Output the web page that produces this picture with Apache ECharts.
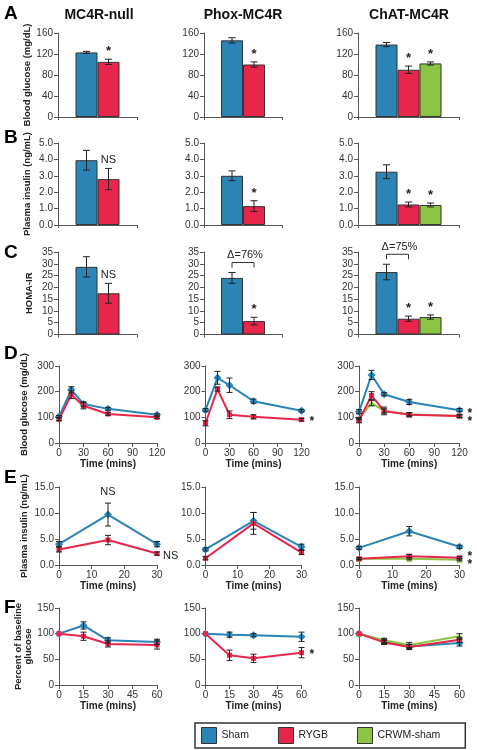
<!DOCTYPE html>
<html><head><meta charset="utf-8">
<script src="https://cdn.jsdelivr.net/npm/echarts@6/dist/echarts.min.js"></script>
<style>html,body{margin:0;padding:0;background:#fff}#c{width:477px;height:750px}</style>
</head><body><div id="c"></div>
<script>
// ---------- DATA ----------
const groups = ['MC4R-null', 'Phox-MC4R', 'ChAT-MC4R'];
const legendNames = ['Sham', 'RYGB', 'CRWM-sham'];
const panelLetters = ['A', 'B', 'C', 'D', 'E', 'F'];

// A: fasting blood glucose (mg/dL)
const glucoseSham = [123, 146, 138], glucoseShamErr = [2, 5, 4];
const glucoseRygb = [105, 100, 90], glucoseRygbErr = [5, 5, 7];
const glucoseCrwm = [null, null, 102], glucoseCrwmErr = [null, null, 3];
const glucoseSig = [[null, '*'], [null, '*'], [null, '*', '*']];

// B: fasting plasma insulin (ng/mL)
const insulinSham = [3.95, 3.0, 3.25], insulinShamErr = [0.6, 0.3, 0.42];
const insulinRygb = [2.8, 1.15, 1.25], insulinRygbErr = [0.65, 0.33, 0.15];
const insulinCrwm = [null, null, 1.22], insulinCrwmErr = [null, null, 0.12];
const insulinSig = [[null, 'NS'], [null, '*'], [null, '*', '*']];

// C: HOMA-IR
const homaSham = [28.7, 24.0, 26.5], homaShamErr = [4.3, 2.3, 3.3];
const homaRygb = [17.5, 5.7, 6.7], homaRygbErr = [4.2, 1.6, 1.1];
const homaCrwm = [null, null, 7.4], homaCrwmErr = [null, null, 0.9];
const homaSig = [[null, 'NS'], [null, '*'], [null, '*', '*']];
const homaDelta = [null, 'Δ=76%', 'Δ=75%'];

// D: OGTT blood glucose (mg/dL)
const ogttTime = [0, 15, 30, 60, 120];
const ogttSham = [[103, 207, 152, 133, 110], [128, 254, 225, 163, 126], [122, 265, 190, 160, 128]];
const ogttShamErr = [[4, 12, 8, 5, 4], [6, 25, 28, 8, 5], [8, 18, 6, 10, 6]];
const ogttRygb = [[92, 188, 145, 113, 100], [77, 210, 110, 102, 91], [87, 185, 125, 110, 105]];
const ogttRygbErr = [[5, 15, 12, 5, 4], [10, 8, 15, 8, 5], [8, 15, 15, 8, 5]];
const ogttCrwm = [null, null, [95, 155, 125, 112, 105]];
const ogttCrwmErr = [null, null, [5, 10, 8, 6, 5]];
const ogttNotes = [[], [[1, 4, '*', 'right']], [[1, 4, '*\n*', 'right']]];

// E: plasma insulin during OGTT (ng/mL)
const insTime = [0, 15, 30];
const insSham = [[4.0, 9.7, 4.0], [3.0, 8.5, 3.5], [3.3, 6.5, 3.5]];
const insShamErr = [[0.5, 2.2, 0.5], [0.3, 1.6, 0.5], [0.3, 0.9, 0.3]];
const insRygb = [[3.0, 4.8, 2.2], [1.3, 8.0, 2.4], [1.2, 1.7, 1.4]];
const insRygbErr = [[0.5, 0.9, 0.3], [0.3, 2.1, 0.4], [0.2, 0.3, 0.2]];
const insCrwm = [null, null, [1.2, 1.2, 1.0]];
const insCrwmErr = [null, null, [0.2, 0.2, 0.2]];
const insNotes = [[[0, 1, 'NS', 'top'], [1, 2, 'NS', 'right']], [], [[1, 2, '*', 'rightUp'], [2, 2, '*', 'rightDown']]];

// F: ITT percent of baseline glucose
const ittTime = [0, 15, 30, 60];
const ittSham = [[100, 116, 87, 84], [100, 98, 97, 94], [100, 85, 75, 82]];
const ittShamErr = [[0, 7, 5, 5], [0, 5, 3, 9], [0, 4, 4, 6]];
const ittRygb = [[100, 95, 80, 78], [100, 58, 52, 63], [100, 83, 74, 88]];
const ittRygbErr = [[0, 8, 6, 8], [0, 10, 8, 10], [0, 4, 5, 5]];
const ittCrwm = [null, null, [100, 87, 78, 95]];
const ittCrwmErr = [null, null, [0, 4, 5, 5]];
const ittNotes = [[], [[1, 3, '*', 'right']], []];

// ---------- STYLE / LAYOUT ----------
const FONT = '"Liberation Sans", Arial, sans-serif';
const COLORS = ['#2a84b6', '#e8264c', '#8cc443'];
const SYMBOLS = ['diamond', 'rect', 'triangle'];
const SYMSIZE = [8, 5, 6];
const ZS = [2, 4, 3];
const BAR_W = 22;
const barCols = [{left: 58, width: 79}, {left: 204, width: 78}, {left: 358, width: 101}];
const lineCols = [{left: 59, width: 98}, {left: 205.5, width: 96}, {left: 359, width: 100.5}];
const barRows = [{top: 33, height: 84}, {top: 143, height: 82}, {top: 252, height: 82.5}];
const lineRows = [{top: 366, height: 77}, {top: 487, height: 78}, {top: 608, height: 77}];
const letterTops = [4, 128, 243, 344, 468, 598];

const grids = [], xAxes = [], yAxes = [], series = [], graphics = [];

function yAxisCfg(g, max, interval, dec, name, gap) {
  return {
    type: 'value', gridIndex: g, min: 0, max: max, interval: interval,
    axisLine: {show: true, lineStyle: {color: '#555', width: 1}},
    axisTick: {show: true, length: 4, lineStyle: {color: '#555'}},
    splitLine: {show: false},
    axisLabel: {fontSize: 10, color: '#333', margin: 5, fontFamily: FONT,
      formatter: v => v.toFixed(dec)},
    name: name || '', nameLocation: 'middle', nameGap: gap || 20, nameRotate: 90,
    nameTextStyle: {fontSize: 9.5, fontWeight: 'bold', color: '#222', fontFamily: FONT, lineHeight: 10}
  };
}

// ---------- BAR ROWS ----------
const barSets = [
  {vals: [glucoseSham, glucoseRygb, glucoseCrwm], errs: [glucoseShamErr, glucoseRygbErr, glucoseCrwmErr], sig: glucoseSig, delta: null, max: 160, interval: 40, dec: 0, name: 'Blood glucose (mg/dL)', gap: 24},
  {vals: [insulinSham, insulinRygb, insulinCrwm], errs: [insulinShamErr, insulinRygbErr, insulinCrwmErr], sig: insulinSig, delta: null, max: 5, interval: 1, dec: 1, name: 'Plasma insulin (ng/mL)', gap: 26},
  {vals: [homaSham, homaRygb, homaCrwm], errs: [homaShamErr, homaRygbErr, homaCrwmErr], sig: homaSig, delta: homaDelta, max: 35, interval: 5, dec: 0, name: 'HOMA-IR', gap: 24}
];

barSets.forEach((set, r) => {
  for (let c = 0; c < 3; c++) {
    const g = grids.length;
    grids.push({left: barCols[c].left, width: barCols[c].width, top: barRows[r].top, height: barRows[r].height, containLabel: false});
    xAxes.push({type: 'category', gridIndex: g, data: [''], boundaryGap: true,
      axisLine: {show: true, lineStyle: {color: '#555'}},
      axisTick: {show: true, length: 3, lineStyle: {color: '#555'}},
      axisLabel: {show: false}});
    yAxes.push(yAxisCfg(g, set.max, set.interval, set.dec, c === 0 ? set.name : '', set.gap));
    const present = [];
    for (let i = 0; i < 3; i++) if (set.vals[i][c] != null) present.push(i);
    const n = present.length;
    present.forEach(i => {
      series.push({type: 'bar', name: legendNames[i], xAxisIndex: g, yAxisIndex: g,
        data: [set.vals[i][c]], barWidth: BAR_W, barGap: '0%',
        itemStyle: {color: COLORS[i], borderColor: '#333', borderWidth: 1}, silent: true});
    });
    const items = present.map((i, k) => [0, set.vals[i][c], set.errs[i][c], k, n]);
    const texts = present.map((i, k) => set.sig[c][k]);
    const delta = set.delta ? set.delta[c] : null;
    series.push({type: 'custom', xAxisIndex: g, yAxisIndex: g, z: 6, silent: true, data: items,
      renderItem: (params, api) => {
        const v = api.value(1), e = api.value(2), k = api.value(3), nn = api.value(4);
        const base = api.coord([0, v]);
        const x = base[0] + (k - (nn - 1) / 2) * BAR_W;
        const yT = api.coord([0, v + e])[1], yB = api.coord([0, v - e])[1];
        const ls = {stroke: '#222', lineWidth: 1};
        const ch = [
          {type: 'line', shape: {x1: x, y1: yT, x2: x, y2: yB}, style: ls},
          {type: 'line', shape: {x1: x - 3.5, y1: yT, x2: x + 3.5, y2: yT}, style: ls},
          {type: 'line', shape: {x1: x - 3.5, y1: yB, x2: x + 3.5, y2: yB}, style: ls}
        ];
        const t = texts[params.dataIndex];
        if (t) {
          const big = t === '*';
          ch.push({type: 'text', x: x, y: yT - (big ? 1 : 3), style: {text: t, fill: '#222',
            font: (big ? 'bold 13px ' : '11px ') + FONT, align: 'center', verticalAlign: 'bottom'}});
        }
        if (delta && k === 0) {
          const yl = yT - 10;
          const x2 = x + BAR_W;
          ch.push({type: 'polyline', shape: {points: [[x, yl + 5], [x, yl], [x2, yl], [x2, yl + 5]]}, style: {stroke: '#333', lineWidth: 1, fill: null}});
          ch.push({type: 'text', x: (x + x2) / 2 + 2, y: yl - 2, style: {text: delta, fill: '#222', font: '11px ' + FONT, align: 'center', verticalAlign: 'bottom'}});
        }
        return {type: 'group', children: ch};
      }});
  }
});

// ---------- LINE ROWS ----------
const lineSets = [
  {time: ogttTime, vals: [ogttSham, ogttRygb, ogttCrwm], errs: [ogttShamErr, ogttRygbErr, ogttCrwmErr], notes: ogttNotes, max: 300, interval: 100, dec: 0, xmax: 120, xint: 30, name: 'Blood glucose (mg/dL)', gap: 30},
  {time: insTime, vals: [insSham, insRygb, insCrwm], errs: [insShamErr, insRygbErr, insCrwmErr], notes: insNotes, max: 15, interval: 5, dec: 1, xmax: 30, xint: 10, name: 'Plasma insulin (ng/mL)', gap: 30},
  {time: ittTime, vals: [ittSham, ittRygb, ittCrwm], errs: [ittShamErr, ittRygbErr, ittCrwmErr], notes: ittNotes, max: 150, interval: 50, dec: 0, xmax: 60, xint: 15, name: 'Percent of baseline\nglucose', gap: 20}
];

lineSets.forEach((set, r) => {
  for (let c = 0; c < 3; c++) {
    const g = grids.length;
    grids.push({left: lineCols[c].left, width: lineCols[c].width, top: lineRows[r].top, height: lineRows[r].height, containLabel: false});
    xAxes.push({type: 'value', gridIndex: g, min: 0, max: set.xmax, interval: set.xint,
      axisLine: {show: true, onZero: false, lineStyle: {color: '#555'}},
      axisTick: {show: true, length: 4, lineStyle: {color: '#555'}},
      splitLine: {show: false},
      axisLabel: {fontSize: 10, color: '#333', margin: 5, fontFamily: FONT},
      name: 'Time (mins)', nameLocation: 'middle', nameGap: 16,
      nameTextStyle: {fontSize: 10, fontWeight: 'bold', color: '#222', fontFamily: FONT}});
    yAxes.push(yAxisCfg(g, set.max, set.interval, set.dec, c === 0 ? set.name : '', set.gap));
    const present = [];
    for (let i = 0; i < 3; i++) if (set.vals[i][c] != null) present.push(i);
    present.forEach(i => {
      series.push({type: 'line', name: legendNames[i], xAxisIndex: g, yAxisIndex: g, z: ZS[i],
        data: set.time.map((t, j) => [t, set.vals[i][c][j]]),
        symbol: SYMBOLS[i], symbolSize: SYMSIZE[i], showAllSymbol: true,
        itemStyle: {color: COLORS[i]}, lineStyle: {color: COLORS[i], width: 2}, silent: true});
    });
    const items = [], labels = [];
    present.forEach(i => {
      set.time.forEach((t, j) => {
        items.push([t, set.vals[i][c][j], set.errs[i][c][j]]);
        let lab = null;
        set.notes[c].forEach(nt => { if (nt[0] === i && nt[1] === j) lab = [nt[2], nt[3]]; });
        labels.push(lab);
      });
    });
    series.push({type: 'custom', xAxisIndex: g, yAxisIndex: g, z: 6, silent: true, data: items,
      renderItem: (params, api) => {
        const t = api.value(0), v = api.value(1), e = api.value(2);
        const p = api.coord([t, v]);
        const yT = api.coord([t, v + e])[1], yB = api.coord([t, v - e])[1];
        const ls = {stroke: '#222', lineWidth: 1};
        const ch = [];
        if (e > 0) {
          ch.push({type: 'line', shape: {x1: p[0], y1: yT, x2: p[0], y2: yB}, style: ls});
          ch.push({type: 'line', shape: {x1: p[0] - 3, y1: yT, x2: p[0] + 3, y2: yT}, style: ls});
          ch.push({type: 'line', shape: {x1: p[0] - 3, y1: yB, x2: p[0] + 3, y2: yB}, style: ls});
        }
        const lab = labels[params.dataIndex];
        if (lab) {
          const big = lab[0].indexOf('*') >= 0;
          const font = (big ? 'bold 12px ' : '11px ') + FONT;
          if (lab[1] === 'top') {
            ch.push({type: 'text', x: p[0], y: yT - 6, style: {text: lab[0], fill: '#222', font: font, align: 'center', verticalAlign: 'bottom'}});
          } else {
            const dy = lab[1] === 'rightUp' ? -1 : (lab[1] === 'rightDown' ? 5 : 2);
            ch.push({type: 'text', x: p[0] + (big ? 8 : 6), y: p[1] + dy, style: {text: lab[0], fill: '#222', font: font, align: 'left', verticalAlign: 'middle', lineHeight: 8}});
          }
        }
        return {type: 'group', children: ch};
      }});
  }
});

// ---------- TEXT ----------
const titleCenters = [99, 243, 409];
groups.forEach((t, c) => graphics.push({type: 'text', x: titleCenters[c], y: 8, silent: true,
  style: {text: t, font: 'bold 14px ' + FONT, fill: '#111', align: 'center', verticalAlign: 'top'}}));
panelLetters.forEach((L, k) => graphics.push({type: 'text', x: 4, y: letterTops[k], silent: true,
  style: {text: L, font: 'bold 19px ' + FONT, fill: '#000', align: 'left', verticalAlign: 'top'}}));

const chart = echarts.init(document.getElementById('c'), null, {renderer: 'canvas', width: 477, height: 750});
chart.setOption({
  animation: false,
  backgroundColor: '#fff',
  textStyle: {fontFamily: FONT},
  grid: grids, xAxis: xAxes, yAxis: yAxes, series: series,
  graphic: graphics,
  legend: {data: legendNames, left: 195, top: 723, orient: 'horizontal', icon: 'rect',
    itemWidth: 15, itemHeight: 16, itemGap: 29, padding: [4, 25, 4, 6],
    borderColor: '#333', borderWidth: 1.5, selectedMode: false,
    itemStyle: {borderColor: '#333', borderWidth: 1},
    textStyle: {fontSize: 10.5, color: '#222', fontFamily: FONT}}
});
</script>
</body></html>
